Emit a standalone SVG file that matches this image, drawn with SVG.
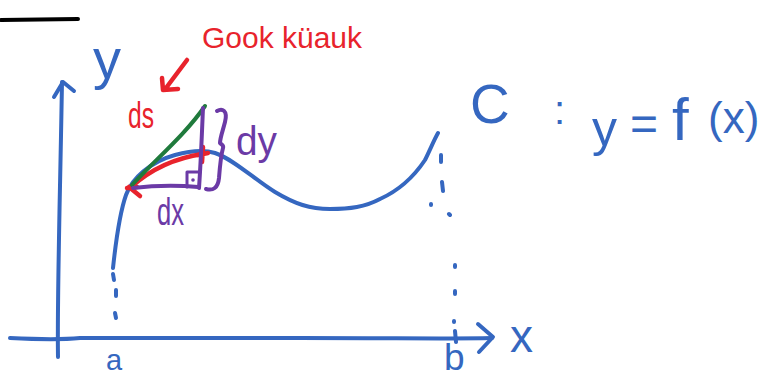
<svg xmlns="http://www.w3.org/2000/svg" width="773" height="381" viewBox="0 0 773 381">
  <style>
    .ink { fill: none; stroke-linecap: round; stroke-linejoin: round; }
    .blue { stroke: #3567c0; stroke-width: 4; }
    .red { stroke: #e8232c; stroke-width: 4.5; }
    .green { stroke: #1f7a3c; stroke-width: 4; }
    .purple { stroke: #6b3aa6; stroke-width: 4; }
    .blk { stroke: #000; stroke-width: 4; }
    text { font-family: "Liberation Sans", Arial, sans-serif; }
    .tb { fill: #3567c0; }
    .tr { fill: #e8232c; }
    .tp { fill: #6b3aa6; }
  </style>
  <rect width="773" height="381" fill="#fff"/>

  <g id="connectors">
    <!-- top black line -->
    <path class="ink blk" d="M1,20 L78,19"/>
    <!-- y axis -->
    <path class="ink blue" d="M58,357 C57,300 60,200 62,82"/>
    <path class="ink blue" d="M54,97 L63,82 L74,91"/>
    <!-- x axis -->
    <path class="ink blue" d="M10,338 C30,339 60,340 80,338 L300,338 C400,338 450,339 492,338"/>
    <path class="ink blue" d="M478,324 L493,337 L479,352"/>
    <!-- dotted verticals -->
    <path class="ink blue" d="M113,274 L114,280 M116,290 L116,296 M115,313 L116,318"/>
    <path class="ink blue" d="M441,155 L441,162 M442,182 L443,191 M431,204 L431,205 M449,214 L450,215 M455,265 L455,267 M455,291 L455,294 M454,321 L454,322 M455,331 L456,342"/>
    <!-- curve C -->
    <path class="ink blue" d="M113,268 C116,240 120,212 126,195 C132,178 150,162 175,155 C190,151 205,150 215,153 C235,160 255,180 275,192 C295,204 310,209 330,209 C350,209 365,207 380,199 C400,190 415,175 425,160 C430,150 434,140 438,133"/>
    <!-- red arc ds -->
    <path class="ink red" d="M131,187 C150,170 175,158 203,154"/>
    <path class="ink red" d="M127,188 L137,187 M129,187 L140,196"/>
    <path class="ink red" d="M203,147 L202,162 M198,155 L208,153"/>
    <!-- red arrow -->
    <path class="ink red" d="M187,60 L166,88 M162,78 L163,90 L178,89"/>
    <!-- green chord -->
    <path class="ink green" d="M132,185 C155,160 185,135 205,106"/>
    <!-- purple triangle -->
    <path class="ink purple" d="M203,108 C202,130 201,160 199,188"/>
    <path class="ink purple" d="M133,188 C150,186 175,185 198,187"/>
    <path class="ink purple" d="M187,172 L187,187 M187,172 L200,172" style="stroke-width:3"/>
    <circle cx="193" cy="180" r="1.8" fill="#6b3aa6"/>
    <!-- brace -->
    <path class="ink purple" d="M217,111 C222,108 228,110 225,122 C223,130 220,138 220,143 C222,145 224,145 223,148 C221,155 220,165 219,178 C218,188 213,191 206,189"/>
  </g>

  <g id="label-y"><text class="tb" x="93" y="78" font-size="56">y</text></g>
  <g id="label-x"><text class="tb" x="510" y="352" font-size="46">x</text></g>
  <g id="label-a"><text class="tb" x="106" y="370" font-size="29">a</text></g>
  <g id="label-b"><text class="tb" x="444" y="370" font-size="37">b</text></g>
  <g id="title"><text class="tr" x="202" y="48" font-size="30" textLength="160" lengthAdjust="spacingAndGlyphs">Gook küauk</text></g>
  <g id="label-ds"><text class="tr" x="128" y="128" font-size="36" textLength="26" lengthAdjust="spacingAndGlyphs">ds</text></g>
  <g id="label-dy"><text class="tp" x="236" y="155" font-size="40" textLength="41" lengthAdjust="spacingAndGlyphs">dy</text></g>
  <g id="label-dx"><text class="tp" x="157" y="225" font-size="38" textLength="27" lengthAdjust="spacingAndGlyphs">dx</text></g>
  <g id="equation">
    <text class="tb"><tspan x="470" y="123" font-size="55">C</tspan><tspan x="554" y="124" font-size="40">:</tspan><tspan x="592" y="146" font-size="50">y</tspan><tspan x="630" y="140" font-size="48">=</tspan><tspan x="672" y="140" font-size="60">f</tspan><tspan x="708" y="133" font-size="44">(x)</tspan></text>
  </g>
</svg>
